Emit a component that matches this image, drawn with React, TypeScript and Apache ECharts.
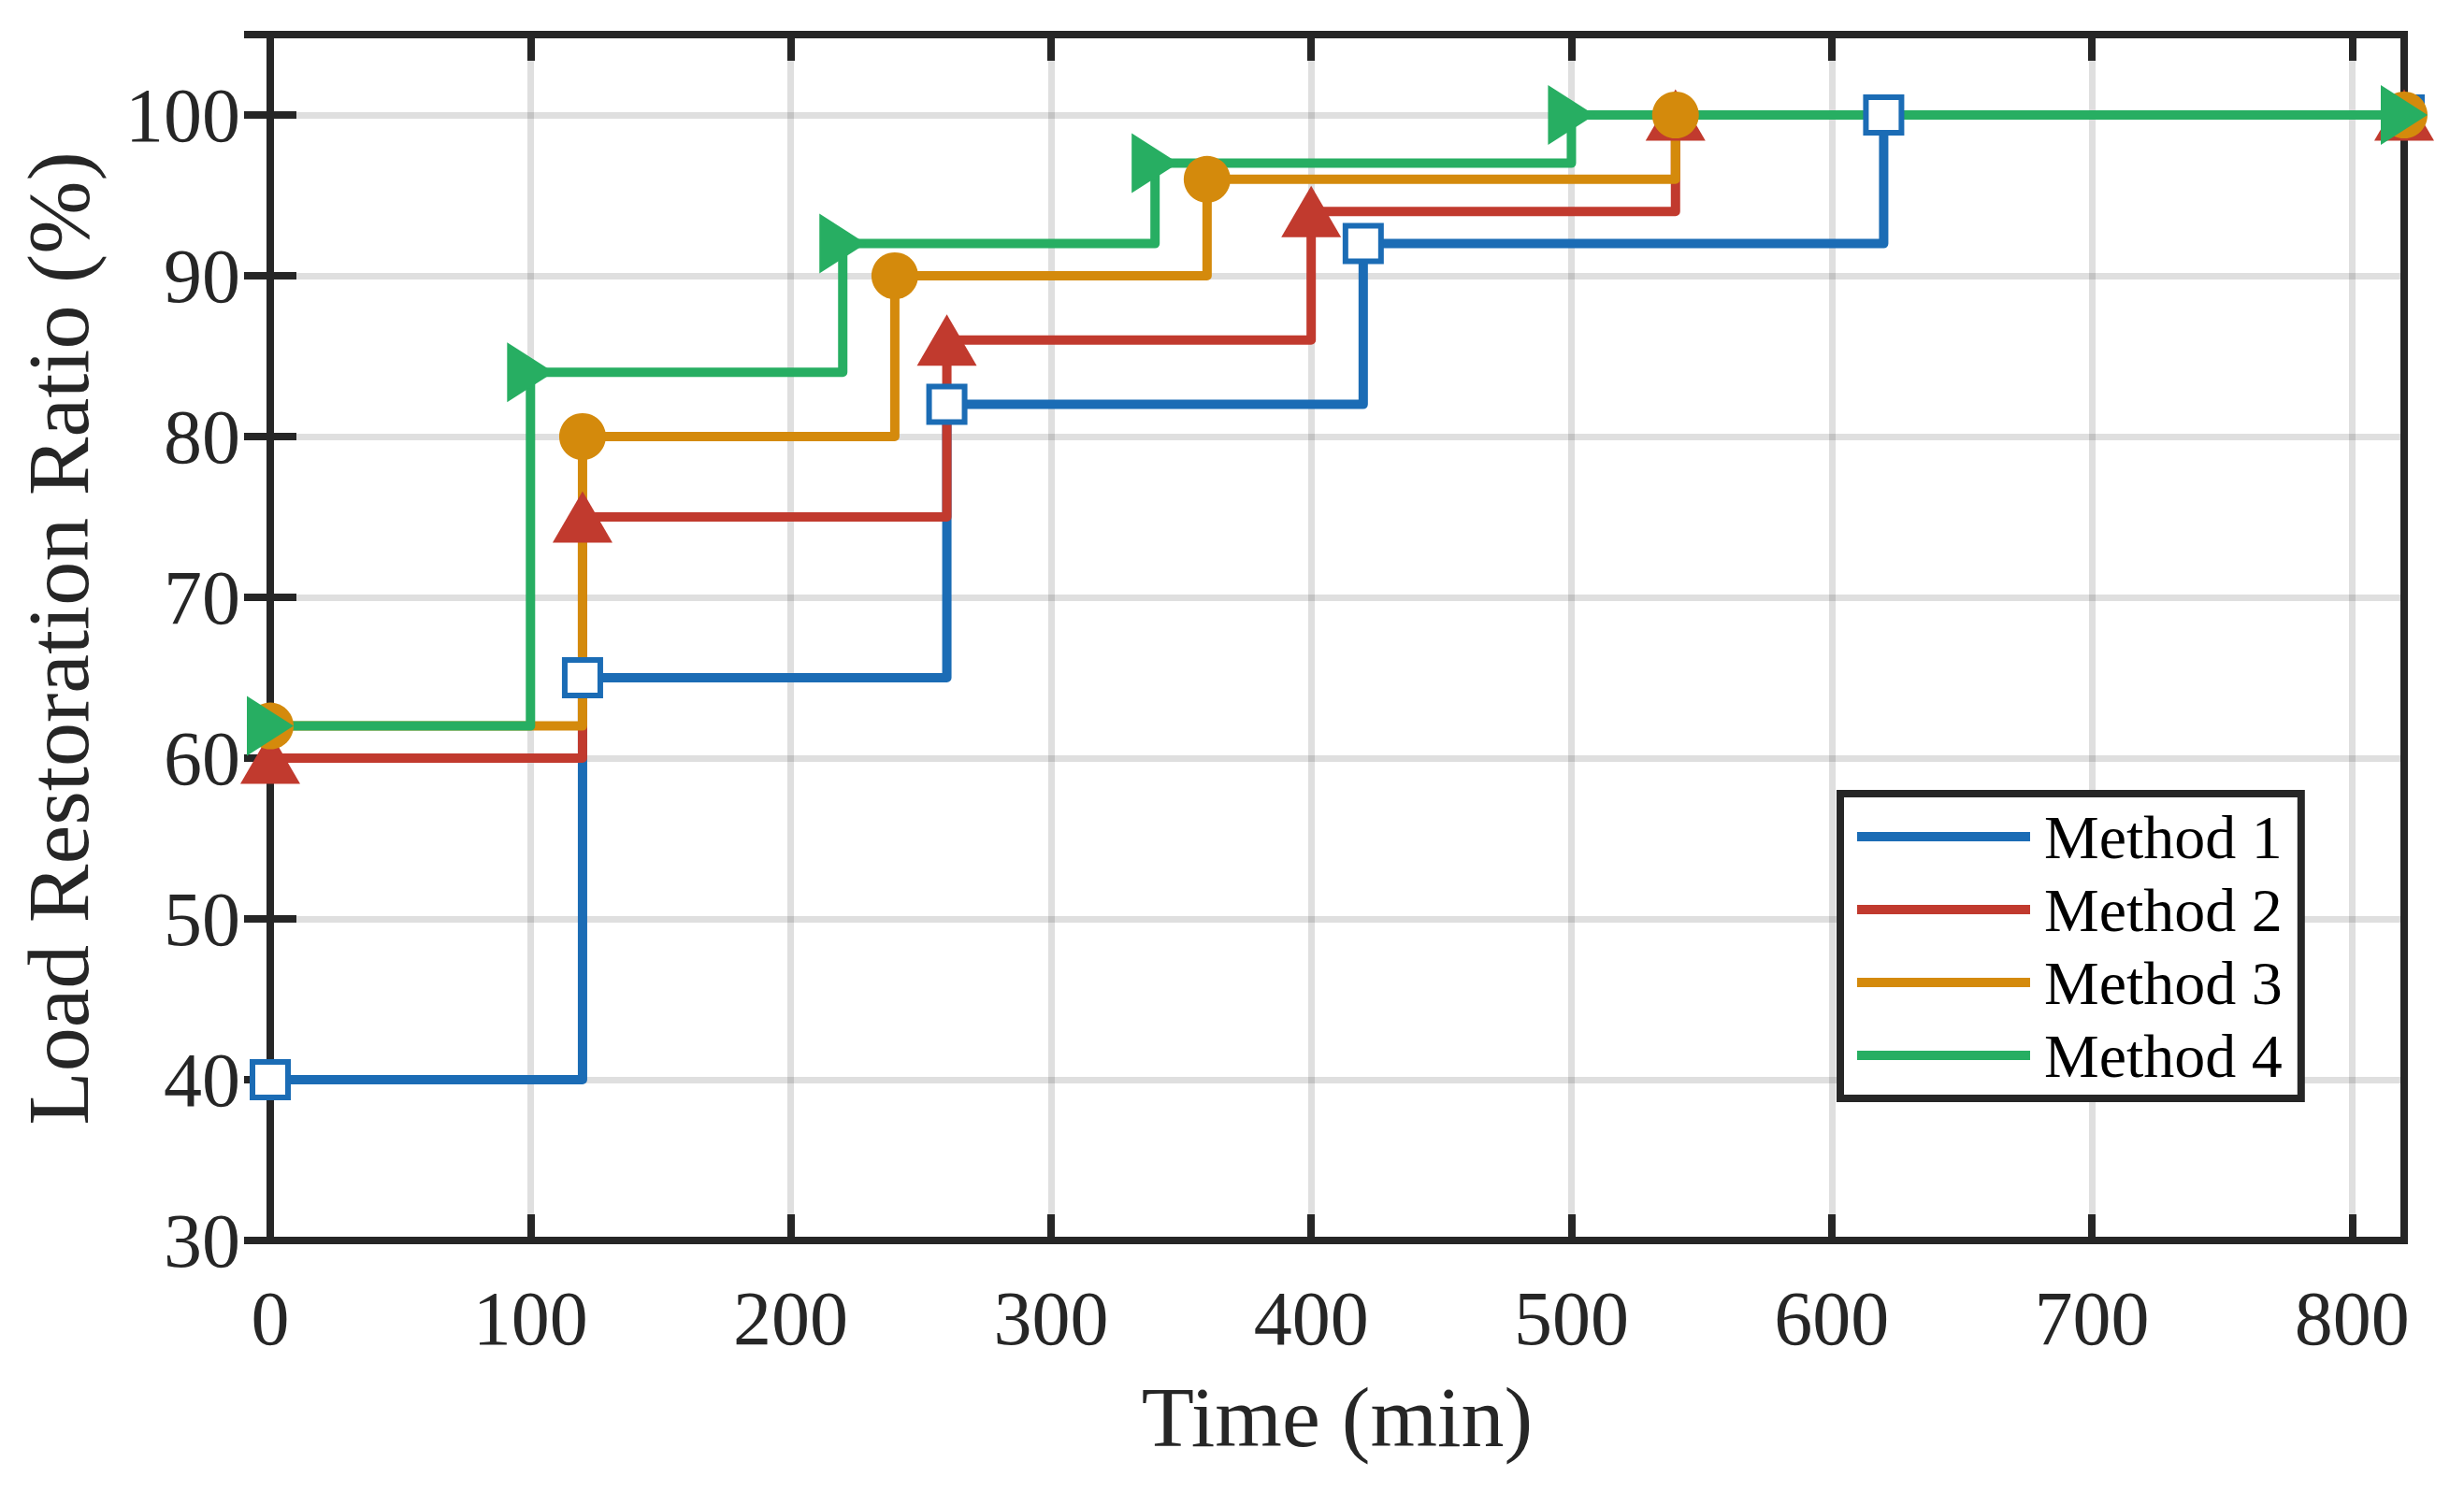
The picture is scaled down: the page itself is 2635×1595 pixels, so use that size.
import React, { useEffect, useRef } from "react";
import * as echarts from "echarts";

const seriesNames = ["Method 1", "Method 2", "Method 3", "Method 4"];
const colors = ["#1b6cb5", "#c13a2e", "#d48a0c", "#27ae62"];

const m1Time = [0, 120, 260, 420, 620, 820];
const m1Ratio = [40, 65, 82, 92, 100, 100];
const m2Time = [0, 120, 260, 400, 540, 820];
const m2Ratio = [60, 75, 86, 94, 100, 100];
const m3Time = [0, 120, 240, 360, 540, 820];
const m3Ratio = [62, 80, 90, 96, 100, 100];
const m4Time = [0, 100, 220, 340, 500, 820];
const m4Ratio = [62, 84, 92, 97, 100, 100];

const xTicks = [0, 100, 200, 300, 400, 500, 600, 700, 800];
const yTicks = [30, 40, 50, 60, 70, 80, 90, 100];

const xTitle = "Time (min)";
const yTitle = "Load Restoration Ratio (%)";

const FONT = '"Times New Roman", "Liberation Serif", serif';
const AXIS = "#262626";

function pairs(t: number[], v: number[]) {
  return t.map((x, i) => [x, v[i]]);
}

export default function App() {
  const ref = useRef<HTMLDivElement>(null);
  useEffect(() => {
    if (!ref.current) return;
    const chart = echarts.init(ref.current, undefined, { renderer: "svg" });
    const allData = [
      pairs(m1Time, m1Ratio),
      pairs(m2Time, m2Ratio),
      pairs(m3Time, m3Ratio),
      pairs(m4Time, m4Ratio),
    ];
    const markerDefs: any[] = [
      { symbol: "rect", symbolSize: 38, symbolRotate: 0, itemStyle: { color: "#ffffff", borderColor: colors[0], borderWidth: 6, opacity: 1 } },
      { symbol: "triangle", symbolSize: [64, 55], symbolRotate: 0, itemStyle: { color: colors[1], opacity: 1 } },
      { symbol: "circle", symbolSize: 50, symbolRotate: 0, itemStyle: { color: colors[2], opacity: 1 } },
      { symbol: "triangle", symbolSize: [64, 50], symbolRotate: -90, itemStyle: { color: colors[3], opacity: 1 } },
    ];
    const lineSeries = seriesNames.map((name, i) => ({
      name,
      type: "line",
      step: "end",
      data: allData[i],
      showSymbol: false,
      symbol: "none",
      lineStyle: { color: colors[i], width: 10, join: "round" },
      itemStyle: { color: colors[i] },
      z: 2,
      xAxisIndex: 0,
      yAxisIndex: 0,
    }));
    const markerSeries = seriesNames.map((name, i) => ({
      name: name + " markers",
      type: "scatter",
      data: allData[i],
      clip: false,
      z: 3,
      ...markerDefs[i],
      emphasis: { disabled: true },
      xAxisIndex: 0,
      yAxisIndex: 0,
    }));

    const tickStyle = { show: true, inside: true, length: 28, lineStyle: { color: AXIS, width: 8 } };

    chart.setOption({
      animation: false,
      backgroundColor: "#ffffff",
      grid: {
        left: 289,
        right: 64,
        top: 37,
        bottom: 268,
        show: true,
        borderColor: AXIS,
        borderWidth: 8,
        backgroundColor: "transparent",
        containLabel: false,
      },
      xAxis: [
        {
          type: "value",
          min: 0,
          max: 820,
          interval: 100,
          axisLine: { show: false },
          axisTick: tickStyle,
          axisLabel: {
            fontSize: 82,
            fontFamily: FONT,
            color: AXIS,
            margin: 42,
            showMaxLabel: false,
            formatter: (v: number) => (xTicks.includes(v) ? String(v) : ""),
          },
          splitLine: { show: true, lineStyle: { color: "rgba(38,38,38,0.15)", width: 7 } },
        },
        {
          type: "value",
          position: "top",
          min: 0,
          max: 820,
          interval: 100,
          axisLine: { show: false },
          axisTick: tickStyle,
          axisLabel: { show: false },
          splitLine: { show: false },
        },
      ],
      yAxis: [
        {
          type: "value",
          min: 30,
          max: 105,
          interval: 10,
          axisLine: { show: false },
          axisTick: tickStyle,
          axisLabel: {
            fontSize: 82,
            fontFamily: FONT,
            color: AXIS,
            margin: 32,
            showMaxLabel: false,
            formatter: (v: number) => (yTicks.includes(v) ? String(v) : ""),
          },
          splitLine: { show: true, lineStyle: { color: "rgba(38,38,38,0.15)", width: 7 } },
        },
        {
          type: "value",
          position: "right",
          min: 30,
          max: 105,
          interval: 10,
          axisLine: { show: false },
          axisTick: tickStyle,
          axisLabel: { show: false },
          splitLine: { show: false },
        },
      ],
      legend: {
        show: true,
        orient: "vertical",
        left: 1968,
        top: 849,
        padding: [13, 20, 13, 18],
        itemGap: 12,
        itemWidth: 185,
        itemHeight: 10,
        icon: "rect",
        backgroundColor: "#ffffff",
        borderColor: AXIS,
        borderWidth: 8,
        borderRadius: 0,
        itemStyle: { borderWidth: 0 },
        textStyle: {
          fontSize: 66,
          fontFamily: FONT,
          color: "#000000",
          lineHeight: 66,
          padding: [0, 0, 0, 10],
        },
        data: seriesNames.map((n, i) => ({ name: n, itemStyle: { color: colors[i], borderWidth: 0 } })),
        selectedMode: false,
      },
      graphic: [
        {
          type: "text",
          x: 1430,
          y: 1516,
          style: {
            text: xTitle,
            fontSize: 92,
            fontFamily: FONT,
            fill: AXIS,
            align: "center",
            verticalAlign: "middle",
          },
        },
        {
          type: "text",
          x: 62,
          y: 683,
          rotation: Math.PI / 2,
          style: {
            text: yTitle,
            fontSize: 94,
            fontFamily: FONT,
            fill: AXIS,
            align: "center",
            verticalAlign: "middle",
          },
        },
      ],
      series: [...lineSeries, ...markerSeries],
    });
    return () => chart.dispose();
  }, []);
  return (
    <div
      ref={ref}
      style={{ position: "absolute", left: 0, top: 0, width: 2635, height: 1595, background: "#fff" }}
    />
  );
}
